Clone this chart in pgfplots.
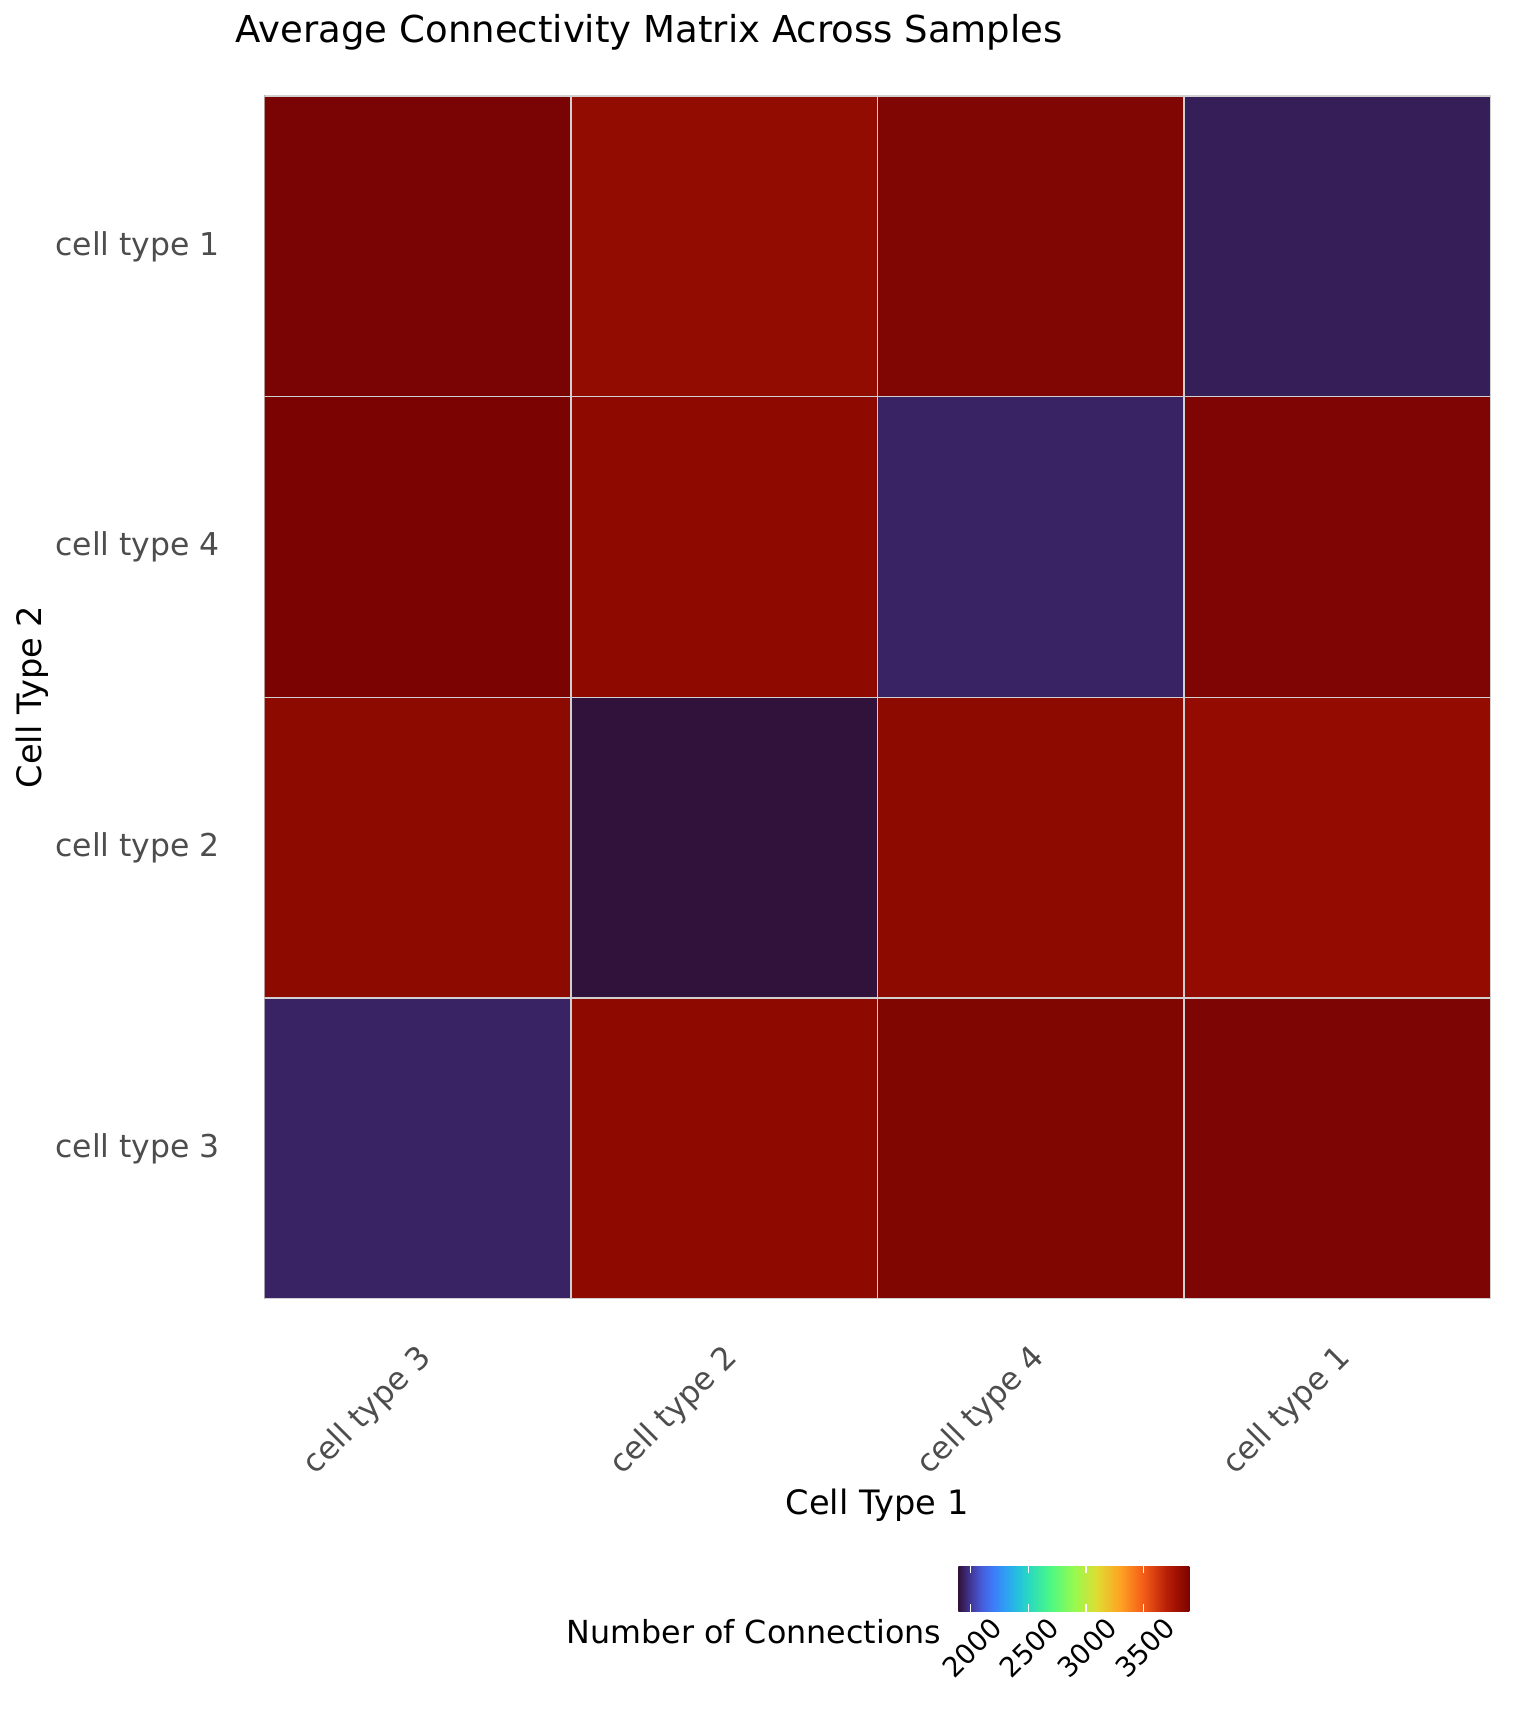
\documentclass[border=0pt]{standalone}
\usepackage{pgfplots}
\pgfplotsset{compat=1.18}
\usepackage{pgfplotstable}
\usepackage{fontspec}
\setmainfont{DejaVu Sans}
\definecolor{tickgray}{HTML}{4D4D4D}
\definecolor{gridc}{HTML}{D0D0D0}
\pgfplotsset{colormap={turbo}{
 rgb(0pt)=(0.190,0.072,0.232);
 rgb(5pt)=(0.260,0.210,0.580);
 rgb(10pt)=(0.275,0.360,0.860);
 rgb(15pt)=(0.241,0.484,0.969);
 rgb(20pt)=(0.184,0.618,0.960);
 rgb(25pt)=(0.148,0.740,0.881);
 rgb(30pt)=(0.154,0.844,0.765);
 rgb(40pt)=(0.304,0.975,0.512);
 rgb(50pt)=(0.589,0.982,0.313);
 rgb(60pt)=(0.876,0.862,0.196);
 rgb(70pt)=(0.997,0.637,0.136);
 rgb(80pt)=(0.958,0.363,0.091);
 rgb(90pt)=(0.721,0.125,0.031);
 rgb(95pt)=(0.608,0.058,0.000);
 rgb(100pt)=(0.480,0.016,0.011)
}}
\pgfdeclarehorizontalshading{turboshade}{100bp}{
 rgb(0bp)=(0.190,0.072,0.232);
 rgb(25bp)=(0.190,0.072,0.232);
 rgb(27.5bp)=(0.260,0.210,0.580);
 rgb(30bp)=(0.275,0.360,0.860);
 rgb(32.5bp)=(0.241,0.484,0.969);
 rgb(35bp)=(0.184,0.618,0.960);
 rgb(37.5bp)=(0.148,0.740,0.881);
 rgb(40bp)=(0.154,0.844,0.765);
 rgb(45bp)=(0.304,0.975,0.512);
 rgb(50bp)=(0.589,0.982,0.313);
 rgb(55bp)=(0.876,0.862,0.196);
 rgb(60bp)=(0.997,0.637,0.136);
 rgb(65bp)=(0.958,0.363,0.091);
 rgb(70bp)=(0.721,0.125,0.031);
 rgb(72.5bp)=(0.608,0.058,0.000);
 rgb(75bp)=(0.480,0.016,0.011);
 rgb(100bp)=(0.480,0.016,0.011)}
% x: 0=cell type 3, 1=cell type 2, 2=cell type 4, 3=cell type 1
% y: 0=cell type 3, 1=cell type 2, 2=cell type 4, 3=cell type 1
\pgfplotstableread{
x y c
0 0 1940
1 0 3836
2 0 3878
3 0 3888
0 1 3838
1 1 1893
2 1 3838
3 1 3818
0 2 3893
1 2 3835
2 2 1940
3 2 3885
0 3 3895
1 3 3822
2 3 3880
3 3 1925
}\cells
\begin{document}
\begin{tikzpicture}
\path[use as bounding box] (0,0) rectangle (576pt,648pt);
\begin{axis}[
  at={(99.15pt,160.9pt)}, anchor=south west,
  scale only axis, width=459.9pt, height=451.1pt,
  xmin=-0.5, xmax=3.5, ymin=-0.5, ymax=3.5,
  enlargelimits=false,
  axis line style={draw=none},
  major tick length=0pt,
  xtick={0,1,2,3}, ytick={0,1,2,3},
  xticklabels={cell type 3, cell type 2, cell type 4, cell type 1},
  yticklabels={cell type 3, cell type 2, cell type 4, cell type 1},
  yticklabel style={font=\fontsize{11.8}{14}\selectfont, text=tickgray, anchor=east, inner sep=0pt, xshift=-16.5pt},
  xticklabel style={font=\fontsize{11.8}{14}\selectfont, text=tickgray, inner sep=0pt, xshift=-0.9pt, yshift=-16pt, rotate=45, anchor=north east},
  colormap name=turbo,
  point meta min=1893, point meta max=3895,
]
\addplot[matrix plot*, mesh/cols=4, point meta=explicit] table[x=x, y=y, meta=c] {\cells};
\pgfplotsinvokeforeach{-0.5,0.5,1.5,2.5,3.5}{
  \draw[gridc, line width=0.55pt] (axis cs:#1,-0.5) -- (axis cs:#1,3.5);
  \draw[gridc, line width=0.55pt] (axis cs:-0.5,#1) -- (axis cs:3.5,#1);
}
\end{axis}
% colour bar
\begin{axis}[
  at={(359.4pt,43.6pt)}, anchor=south west,
  scale only axis, width=86.6pt, height=17.1pt,
  xmin=1893, xmax=3895, ymin=0, ymax=1,
  enlargelimits=false, axis on top,
  axis line style={draw=none},
  xtick={2000,2500,3000,3500},
  xticklabels={2000,2500,3000,3500},
  ytick=\empty,
  xtick pos=both, xticklabel pos=lower,
  tick align=inside, major tick length=2.75pt,
  xtick style={draw=white, line width=0.5pt},
  xticklabel style={font=\fontsize{10.3}{12}\selectfont, text=black, inner sep=0pt, xshift=6.9pt, yshift=-1.2pt, rotate=45, anchor=north east},
]
\shade[shading=turboshade] (axis cs:1893,0) rectangle (axis cs:3895,1);
\end{axis}
\node[anchor=base west, inner sep=0pt, font=\fontsize{13.9}{16}\selectfont] at (88.1pt,632pt) {Average Connectivity Matrix Across Samples};
\node[anchor=base, inner sep=0pt, font=\fontsize{12.6}{15}\selectfont] at (328.9pt,79.9pt) {Cell Type 1};
\node[anchor=base, rotate=90, inner sep=0pt, font=\fontsize{12.6}{15}\selectfont] at (15.6pt,386.6pt) {Cell Type 2};
\node[anchor=base east, inner sep=0pt, font=\fontsize{11.9}{14}\selectfont] at (353.1pt,31.5pt) {Number of Connections};
\end{tikzpicture}
\end{document}
